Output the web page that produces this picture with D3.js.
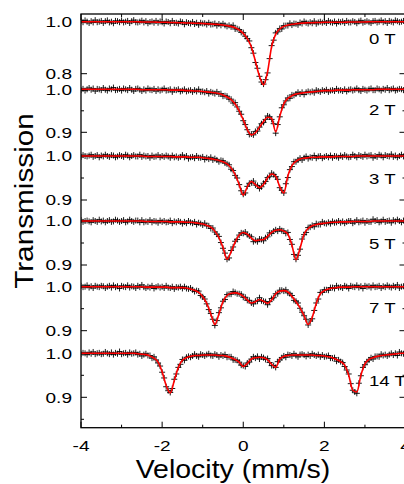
<!DOCTYPE html>
<html><head><meta charset="utf-8">
<script src="https://cdn.jsdelivr.net/npm/d3@7"></script>
<style>body{margin:0;background:#fff}</style>
</head><body>
<script>
// ---------- DATA ----------
const fields = ["0 T","2 T","3 T","5 T","7 T","14 T"];
const xTickValues = [-4,-2,0,2,4];
const xTickLabels = ["-4","-2","0","2","4"];
const yTickValues = [[0.8,1.0],[0.9,1.0],[0.9,1.0],[0.9,1.0],[0.9,1.0],[0.9,1.0]];
const yTickLabels = [["0.8","1.0"],["0.9","1.0"],["0.9","1.0"],["0.9","1.0"],["0.9","1.0"],["0.9","1.0"]];

const fitVelocity = [
-4,-3.9,-3.8,-3.7,-3.6,-3.5,-3.4,-3.3,-3.2,-3.1,
-3,-2.9,-2.8,-2.7,-2.6,-2.5,-2.4,-2.3,-2.2,-2.1,
-2,-1.9,-1.8,-1.7,-1.6,-1.5,-1.4,-1.3,-1.2,-1.1,
-1,-0.9,-0.8,-0.7,-0.6,-0.5,-0.4,-0.3,-0.2,-0.1,
0,0.1,0.2,0.3,0.4,0.5,0.6,0.7,0.8,0.9,
1,1.1,1.2,1.3,1.4,1.5,1.6,1.7,1.8,1.9,
2,2.1,2.2,2.3,2.4,2.5,2.6,2.7,2.8,2.9,
3,3.1,3.2,3.3,3.4,3.5,3.6,3.7,3.8,3.9,4];

const dataVelocity = [
-4,-3.95,-3.9,-3.85,-3.8,-3.75,-3.7,-3.65,-3.6,-3.55,-3.5,-3.45,-3.4,-3.35,-3.3,-3.25,-3.2,-3.15,-3.1,-3.05,
-3,-2.95,-2.9,-2.85,-2.8,-2.75,-2.7,-2.65,-2.6,-2.55,-2.5,-2.45,-2.4,-2.35,-2.3,-2.25,-2.2,-2.15,-2.1,-2.05,
-2,-1.95,-1.9,-1.85,-1.8,-1.75,-1.7,-1.65,-1.6,-1.55,-1.5,-1.45,-1.4,-1.35,-1.3,-1.25,-1.2,-1.15,-1.1,-1.05,
-1,-0.95,-0.9,-0.85,-0.8,-0.75,-0.7,-0.65,-0.6,-0.55,-0.5,-0.45,-0.4,-0.35,-0.3,-0.25,-0.2,-0.15,-0.1,-0.05,
0,0.05,0.1,0.15,0.2,0.25,0.3,0.35,0.4,0.45,0.5,0.55,0.6,0.65,0.7,0.75,0.8,0.85,0.9,0.95,
1,1.05,1.1,1.15,1.2,1.25,1.3,1.35,1.4,1.45,1.5,1.55,1.6,1.65,1.7,1.75,1.8,1.85,1.9,1.95,
2,2.05,2.1,2.15,2.2,2.25,2.3,2.35,2.4,2.45,2.5,2.55,2.6,2.65,2.7,2.75,2.8,2.85,2.9,2.95,
3,3.05,3.1,3.15,3.2,3.25,3.3,3.35,3.4,3.45,3.5,3.55,3.6,3.65,3.7,3.75,3.8,3.85,3.9,3.95,4];

// fitted curves (red)
const fit0T = [
1,1,1,1,1,1,1,1,1,1,
1,1,1,1,1,0.999,0.999,0.999,0.999,0.998,
0.998,0.998,0.997,0.997,0.996,0.996,0.995,0.995,0.994,0.994,
0.993,0.992,0.991,0.990,0.989,0.987,0.985,0.982,0.977,0.968,
0.955,0.935,0.903,0.848,0.790,0.757,0.808,0.905,0.952,0.972,
0.982,0.987,0.990,0.992,0.994,0.995,0.996,0.996,0.997,0.997,
0.998,0.998,0.998,0.998,0.998,0.998,0.999,0.999,0.999,0.999,
0.999,1,1,1,1,1,1,1,1,1,1];
const fit2T = [
1,1,1,1,1,1,1,1,1,1,
1,1,1,1,1,0.999,0.999,0.999,0.999,0.999,
0.999,0.999,0.998,0.998,0.998,0.998,0.997,0.997,0.996,0.996,
0.995,0.994,0.993,0.992,0.990,0.987,0.982,0.976,0.966,0.950,
0.929,0.906,0.894,0.899,0.912,0.925,0.935,0.932,0.901,0.937,
0.966,0.979,0.985,0.989,0.991,0.992,0.993,0.994,0.995,0.996,
0.997,0.997,0.997,0.998,0.998,0.998,0.998,0.999,0.999,0.999,
0.999,0.999,0.999,1,1,1,1,1,1,1,1];
const fit3T = [
1,1,1,1,1,1,1,1,1,1,
1,1,1,1,1,1,0.999,0.999,0.999,0.999,
0.999,0.999,0.999,0.998,0.998,0.998,0.998,0.997,0.997,0.997,
0.996,0.995,0.994,0.992,0.990,0.987,0.982,0.973,0.958,0.935,
0.911,0.930,0.942,0.935,0.928,0.935,0.950,0.959,0.954,0.930,
0.916,0.955,0.978,0.988,0.993,0.995,0.996,0.997,0.997,0.998,
0.998,0.998,0.998,0.999,0.999,0.999,0.999,0.999,1,1,
1,1,1,1,1,1,1,1,1,1,1];
const fit5T = [
1,1,1,1,1,1,1,1,1,1,
1,1,1,1,1,1,0.999,0.999,0.999,0.999,
0.999,0.999,0.998,0.998,0.998,0.998,0.997,0.997,0.996,0.995,
0.993,0.990,0.986,0.977,0.962,0.940,0.913,0.930,0.952,0.968,
0.974,0.970,0.961,0.955,0.957,0.958,0.965,0.974,0.979,0.980,
0.977,0.970,0.945,0.912,0.938,0.970,0.983,0.989,0.992,0.994,
0.995,0.996,0.997,0.997,0.998,0.998,0.998,0.999,0.999,0.999,
0.999,0.999,1,1,1,1,1,1,1,1,1];
const fit7T = [
1,1,1,1,1,1,1,1,1,1,
1,1,1,1,1,1,0.999,0.999,0.999,0.999,
0.999,0.999,0.998,0.998,0.998,0.998,0.997,0.995,0.992,0.987,
0.977,0.962,0.938,0.914,0.938,0.966,0.980,0.985,0.986,0.984,
0.978,0.970,0.963,0.966,0.971,0.967,0.962,0.970,0.984,0.990,
0.991,0.988,0.978,0.966,0.952,0.934,0.914,0.930,0.962,0.984,
0.991,0.995,0.997,0.998,0.999,0.999,0.999,1,1,1,
1,1,1,1,1,1,1,1,1,1,1];
const fit14T = [
1,1,1,1,1,1,1,1,1,1,
1,1,1,1,0.999,0.998,0.997,0.994,0.989,0.980,
0.958,0.927,0.910,0.938,0.968,0.984,0.990,0.993,0.995,0.995,
0.996,0.996,0.996,0.996,0.995,0.995,0.993,0.990,0.986,0.980,
0.970,0.977,0.987,0.990,0.991,0.990,0.985,0.975,0.968,0.987,
0.993,0.995,0.996,0.996,0.996,0.996,0.996,0.996,0.995,0.995,
0.994,0.992,0.990,0.986,0.981,0.973,0.950,0.916,0.912,0.950,
0.976,0.986,0.990,0.993,0.995,0.996,0.997,0.998,0.999,1,1];

// measured transmission (black crosses)
const data0T = [
1.003,0.998,1.005,1.000,0.995,1.002,0.997,1.006,0.998,1.000,1.003,0.995,1.002,1.005,0.997,1.000,0.994,1.003,1.002,0.998,
1.005,0.997,1.000,1.003,0.995,1.002,1.006,0.998,0.997,1.000,1.004,0.997,1.002,0.994,0.999,1.001,0.996,1.003,0.996,1.001,
0.998,0.993,1.001,0.999,0.994,1.003,0.995,0.996,0.993,1.001,0.998,0.990,0.998,0.995,0.993,0.999,0.991,0.996,0.988,0.996,
0.993,0.994,0.989,0.996,0.989,0.990,0.993,0.985,0.991,0.986,0.992,0.986,0.982,0.986,0.980,0.986,0.972,0.973,0.970,0.959,
0.958,0.944,0.935,0.926,0.900,0.879,0.843,0.821,0.790,0.768,0.760,0.777,0.803,0.858,0.908,0.929,0.957,0.961,0.974,0.972,
0.985,0.985,0.985,0.994,0.987,0.993,0.992,0.988,0.997,0.993,1.001,0.996,0.993,0.998,0.994,1.002,0.992,0.997,1.000,0.996,
1.000,0.995,1.003,0.998,0.996,1.001,0.993,1.000,0.998,1.001,0.995,1.003,0.997,0.997,1.002,0.999,0.994,1.001,1.004,0.996,
0.999,1.002,0.998,0.995,1.002,1.003,0.997,1.000,1.005,0.998,1.002,0.995,1.003,1.000,0.997,1.005,1.002,0.998,1.000,1.003,0.997];
const data2T = [
0.998,1.001,0.997,1.000,1.003,0.999,1.002,0.996,1.001,1.000,0.998,1.003,0.999,0.997,1.002,1.000,1.004,0.998,0.999,1.001,
0.997,1.002,1.000,0.998,1.003,0.999,0.996,1.001,1.002,0.999,0.996,1.000,0.997,1.002,0.999,0.998,1.001,0.996,1.000,0.997,
0.999,1.002,0.997,0.998,1.000,0.994,0.999,0.998,1.000,0.995,0.997,1.000,0.995,0.997,0.998,0.994,0.998,0.995,1.000,0.994,
0.995,0.993,0.996,0.990,0.994,0.992,0.990,0.994,0.989,0.990,0.984,0.985,0.984,0.977,0.977,0.968,0.969,0.959,0.949,0.942,
0.927,0.918,0.906,0.895,0.896,0.894,0.902,0.903,0.912,0.920,0.923,0.930,0.938,0.936,0.930,0.920,0.898,0.918,0.936,0.957,
0.964,0.973,0.980,0.979,0.987,0.986,0.989,0.993,0.989,0.993,0.988,0.993,0.995,0.993,0.995,0.992,0.998,0.996,0.994,0.998,
0.996,0.999,0.994,0.997,0.998,0.996,1.001,0.997,0.998,0.996,1.000,0.995,0.999,1.000,0.997,0.999,1.002,0.998,0.996,1.001,
0.999,0.997,1.000,1.002,0.998,0.998,1.002,1.000,0.997,1.001,0.999,1.003,0.998,1.000,1.002,0.997,0.999,1.001,1.000,0.998,1.002];
const data3T = [
0.998,1.002,1.000,0.999,1.001,1.003,0.998,1.000,1.002,0.997,1.001,0.999,1.003,1.000,0.998,1.002,1.001,0.997,0.999,1.002,
1.000,0.998,1.003,1.001,0.997,1.000,1.002,0.999,0.999,1.003,0.998,1.001,0.999,1.000,0.996,1.001,0.998,0.999,1.002,0.997,
1.000,0.998,1.001,0.999,0.996,1.001,0.997,0.999,0.996,0.998,1.002,0.997,1.000,0.994,0.997,0.998,0.995,1.000,0.996,0.996,
0.998,0.992,0.996,0.993,0.997,0.991,0.994,0.991,0.987,0.990,0.989,0.984,0.982,0.980,0.970,0.967,0.956,0.950,0.935,0.921,
0.913,0.916,0.931,0.938,0.939,0.943,0.934,0.933,0.926,0.930,0.938,0.942,0.951,0.953,0.961,0.958,0.953,0.947,0.928,0.922,
0.916,0.937,0.951,0.969,0.976,0.987,0.987,0.991,0.995,0.991,0.996,0.999,0.994,0.997,0.996,1.001,0.995,0.999,1.000,0.995,
0.998,1.000,0.997,1.001,0.996,1.000,0.999,0.996,1.001,0.998,1.002,0.999,0.997,0.998,1.003,1.000,0.997,1.002,1.000,0.998,
1.003,0.999,1.001,1.002,0.996,1.000,0.998,1.003,1.001,0.997,1.002,1.000,0.999,1.004,0.998,1.001,0.997,1.000,1.003,0.999,1.002];
const data5T = [
1.002,0.998,1.000,1.001,0.999,0.997,1.002,1.000,0.998,1.003,0.999,1.001,0.997,1.000,1.002,0.998,0.999,1.003,1.001,0.998,
1.000,1.002,0.997,0.999,1.003,1.000,0.998,1.001,1.001,0.997,1.002,0.997,0.999,0.998,1.002,0.997,1.000,0.999,0.996,1.001,
0.998,1.000,0.997,0.998,1.001,0.995,0.999,0.997,1.000,0.998,0.994,0.998,0.995,1.000,0.997,0.995,0.998,0.992,0.996,0.994,
0.991,0.995,0.989,0.989,0.983,0.984,0.975,0.970,0.965,0.951,0.938,0.927,0.913,0.916,0.933,0.941,0.954,0.958,0.968,0.973,
0.972,0.975,0.969,0.966,0.964,0.953,0.956,0.953,0.959,0.958,0.955,0.962,0.964,0.973,0.972,0.977,0.980,0.977,0.982,0.978,
0.977,0.972,0.974,0.958,0.947,0.924,0.913,0.922,0.936,0.959,0.969,0.974,0.985,0.986,0.990,0.987,0.994,0.992,0.992,0.998,
0.995,0.994,0.997,0.994,0.999,0.996,0.997,1.000,0.996,0.999,0.995,0.998,1.000,1.000,0.995,0.998,1.002,0.997,0.999,1.001,
0.996,1.000,0.998,0.998,1.004,1.000,1.002,0.997,0.999,1.003,0.998,1.000,1.001,0.996,1.002,0.999,1.003,1.000,0.997,1.001,0.998];
const data7T = [
1.002,0.999,1.000,1.003,0.998,1.001,0.997,1.002,1.000,0.999,1.002,1.001,0.997,1.000,1.002,0.998,1.003,0.999,1.001,0.996,
1.002,1.000,0.999,1.003,0.998,1.001,1.000,0.997,1.002,0.999,1.004,0.999,0.997,1.000,0.998,1.002,0.996,0.999,1.001,0.998,
1.000,0.997,1.002,0.998,0.997,1.000,0.995,0.999,0.998,1.000,0.996,1.000,0.996,0.995,0.997,0.993,0.989,0.991,0.990,0.980,
0.977,0.972,0.961,0.948,0.939,0.926,0.912,0.923,0.941,0.952,0.967,0.971,0.982,0.983,0.983,0.989,0.987,0.984,0.984,0.983,
0.976,0.976,0.969,0.969,0.963,0.961,0.967,0.967,0.975,0.968,0.967,0.966,0.959,0.966,0.973,0.975,0.984,0.984,0.992,0.992,
0.990,0.993,0.986,0.984,0.980,0.969,0.967,0.963,0.951,0.942,0.934,0.926,0.913,0.922,0.927,0.946,0.963,0.972,0.987,0.987,
0.993,0.993,0.992,0.998,0.998,0.996,1.002,0.998,0.999,0.997,1.002,1.000,0.996,1.002,1.000,0.999,1.003,0.998,1.001,0.996,
1.002,1.000,1.001,0.998,1.003,0.999,1.000,1.002,0.997,1.001,0.999,1.003,1.000,0.998,1.002,0.999,1.004,0.997,1.000,1.001,0.998];
const data14T = [
0.998,1.001,1.000,0.997,1.002,0.999,1.003,0.998,1.000,1.001,0.998,0.999,1.003,1.000,0.998,1.002,0.997,1.001,0.999,1.004,
0.998,1.000,1.001,0.997,1.002,0.999,1.000,1.002,0.997,0.999,0.994,0.997,0.999,0.995,0.995,0.989,0.992,0.985,0.978,0.971,
0.957,0.944,0.924,0.915,0.911,0.920,0.941,0.953,0.968,0.975,0.986,0.984,0.991,0.993,0.991,0.994,0.998,0.994,0.992,0.998,
0.996,0.994,0.997,0.999,0.995,0.994,0.998,0.996,0.992,0.996,0.994,0.997,0.991,0.992,0.992,0.985,0.985,0.984,0.980,0.973,
0.972,0.970,0.978,0.980,0.987,0.992,0.989,0.993,0.987,0.992,0.990,0.986,0.988,0.979,0.972,0.972,0.968,0.981,0.985,0.990,
0.994,0.991,0.997,0.996,0.994,0.999,0.995,0.992,0.997,0.998,0.996,0.993,0.997,0.994,0.999,0.996,0.994,0.997,0.992,0.996,
0.992,0.993,0.995,0.989,0.989,0.990,0.982,0.985,0.981,0.979,0.970,0.962,0.953,0.931,0.916,0.912,0.909,0.932,0.949,0.968,
0.974,0.981,0.985,0.990,0.987,0.993,0.993,0.992,0.998,0.995,0.997,0.994,0.997,1.000,0.996,1.000,0.995,1.003,1.000,0.999,1.002];

const fits = [fit0T, fit2T, fit3T, fit5T, fit7T, fit14T];
const datas = [data0T, data2T, data3T, data5T, data7T, data14T];

// ---------- LAYOUT ----------
const W = 404, H = 484;
const plot = {left: 81, right: 405.5, top: 14, bottom: 427.7};
const panelPx = [[73.7,21.7],[132.3,89.3],[200,156],[265,221],[330.7,286.7],[397.3,353.3]];
const panelLabelY = [38.5,109,178.5,243.5,307.5,380.5];
const FONT = "'Liberation Sans', Arial, Helvetica, sans-serif";

const svg = d3.select("body").append("svg").attr("width", W).attr("height", H);
svg.append("rect").attr("width", W).attr("height", H).attr("fill", "#fff");

const x = d3.scaleLinear().domain([-4, 4]).range([plot.left, plot.right]);
const ys = yTickValues.map((tv, i) => d3.scaleLinear().domain(tv).range(panelPx[i]));

svg.append("clipPath").attr("id", "clip").append("rect")
  .attr("x", plot.left).attr("y", plot.top)
  .attr("width", plot.right - plot.left).attr("height", plot.bottom - plot.top);

// x ticks (bottom and top, inward)
const xMinor = [-3,-1,1,3];
const axes = svg.append("g").attr("stroke", "#000").attr("stroke-width", 1);
xTickValues.forEach(v => {
  axes.append("line").attr("x1", x(v)).attr("x2", x(v)).attr("y1", plot.bottom).attr("y2", plot.bottom - 6);
  axes.append("line").attr("x1", x(v)).attr("x2", x(v)).attr("y1", plot.top).attr("y2", plot.top + 6);
});
xMinor.forEach(v => {
  axes.append("line").attr("x1", x(v)).attr("x2", x(v)).attr("y1", plot.bottom).attr("y2", plot.bottom - 3);
  axes.append("line").attr("x1", x(v)).attr("x2", x(v)).attr("y1", plot.top).attr("y2", plot.top + 3);
});
// y ticks per panel (left and right, inward)
ys.forEach((y, i) => {
  yTickValues[i].forEach(v => {
    axes.append("line").attr("x1", plot.left).attr("x2", plot.left + 6).attr("y1", y(v)).attr("y2", y(v));
    axes.append("line").attr("x1", plot.right).attr("x2", plot.right - 6).attr("y1", y(v)).attr("y2", y(v));
  });
  if (i > 0) {
    axes.append("line").attr("x1", plot.left).attr("x2", plot.left + 3).attr("y1", y(0.95)).attr("y2", y(0.95));
    axes.append("line").attr("x1", plot.right).attr("x2", plot.right - 3).attr("y1", y(0.95)).attr("y2", y(0.95));
  }
  if (i === 5) {
    axes.append("line").attr("x1", plot.left).attr("x2", plot.left + 3).attr("y1", y(0.85)).attr("y2", y(0.85));
  }
});

// data + fits
const g = svg.append("g").attr("clip-path", "url(#clip)");
datas.forEach((arr, i) => {
  const y = ys[i];
  g.append("g").selectAll("path")
    .data(d3.zip(dataVelocity, arr))
    .join("path")
    .attr("d", "M-3,0H3M0,-3V3")
    .attr("transform", d => `translate(${x(d[0])},${y(d[1])})`)
    .attr("stroke", "#000").attr("stroke-width", 0.9).attr("fill", "none");
});
fits.forEach((arr, i) => {
  const y = ys[i];
  const line = d3.line().x(d => x(d[0])).y(d => y(d[1])).curve(d3.curveMonotoneX);
  g.append("path").attr("d", line(d3.zip(fitVelocity, arr)))
    .attr("fill", "none").attr("stroke", "#ff0000").attr("stroke-width", 1.6);
});

// frame
svg.append("rect").attr("x", plot.left).attr("y", plot.top)
  .attr("width", plot.right - plot.left).attr("height", plot.bottom - plot.top)
  .attr("fill", "none").attr("stroke", "#000").attr("stroke-width", 1.3);

// text helper
function label(txt, tx, ty, size, sx, anchor, rot) {
  const t = svg.append("g").attr("transform", `translate(${tx},${ty})${rot ? ` rotate(${rot})` : ""} scale(${sx},1)`)
    .append("text").text(txt)
    .attr("font-family", FONT).attr("font-size", size)
    .attr("text-anchor", anchor).attr("fill", "#000");
  return t;
}
// y tick labels
ys.forEach((y, i) => {
  yTickValues[i].forEach((v, k) => {
    label(yTickLabels[i][k], 72, y(v) + 5.3, 15, 1.27, "end");
  });
});
// x tick labels
xTickValues.forEach((v, k) => label(xTickLabels[k], x(v), 450.5, 15, 1.27, "middle"));
// panel labels
fields.forEach((f, i) => label(f, 369, panelLabelY[i] + 5.5, 15.5, 1.2, "start"));
// axis titles
label("Velocity (mm/s)", 233, 478, 25, 1.14, "middle");
label("Transmission", 33, 201, 25, 1.19, "middle", -90);
</script>
</body></html>
